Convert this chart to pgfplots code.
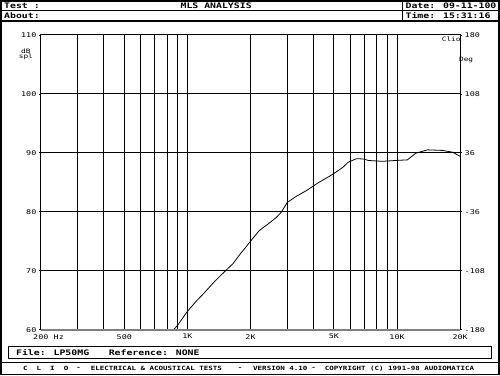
\documentclass[border=0pt]{standalone}
\usepackage{fontspec}
\usepackage{pgfplots}
\pgfplotsset{compat=1.18}
\setmainfont{DejaVu Sans Mono}[FakeStretch=1.25]
\newfontfamily\hdr{DejaVu Sans Mono}[FakeStretch=1.3]
\newcommand{\hf}{\hdr\bfseries\fontsize{7.6}{8}\selectfont}
\newcommand{\smf}{\hdr\fontsize{6}{6}\selectfont}
\newcommand{\sbf}{\hdr\bfseries\fontsize{5.8}{6}\selectfont}
\newcommand{\tf}{\hdr\fontsize{6.5}{7}\selectfont}
\begin{document}
\begin{tikzpicture}
\begin{scope}[x=1pt,y=1pt]
\useasboundingbox (0,0) rectangle (500,375);
\fill[white] (0,0) rectangle (500,375);
% header
\draw[line width=1] (0,365) -- (500,365);
\draw[line width=1.5] (0,355) -- (500,355);
\draw[line width=1] (403,375) -- (403,355);
\node[anchor=west, font=\hf, inner sep=0] at (3,370) {Test :};
\node[anchor=center, font=\hf, inner sep=0] at (216,370) {MLS ANALYSIS};
\node[anchor=west, font=\hf, inner sep=0] at (3,360) {About:};
\node[anchor=west, font=\hf, inner sep=0] at (406,370) {Date: 09-11-100};
\node[anchor=west, font=\hf, inner sep=0] at (406,360) {Time: 15:31:16};
% file box
\draw[line width=1] (8,16) rectangle (492,28);
\node[anchor=west, font=\hf, inner sep=0] at (15,22) {File: LP50MG};
\node[anchor=west, font=\hf, inner sep=0] at (108,22) {Reference: NONE};
\draw[line width=1] (0,12) -- (500,12);
% bottom line
\node[anchor=west, font=\sbf, inner sep=0] at (22,6) {C\ \ L\ \ I\ \ O};
\node[anchor=center, font=\sbf, inner sep=0] at (78,6) {-};
\node[anchor=west, font=\sbf, inner sep=0] at (90,6) {ELECTRICAL \& ACOUSTICAL TESTS};
\node[anchor=center, font=\sbf, inner sep=0] at (240,6) {-};
\node[anchor=west, font=\sbf, inner sep=0] at (253,6) {VERSION 4.10};
\node[anchor=center, font=\sbf, inner sep=0] at (314,6) {-};
\node[anchor=west, font=\sbf, inner sep=0] at (325,6) {COPYRIGHT (C) 1991-98 AUDIOMATICA};
% labels
\node[font=\smf, inner sep=0] at (25,325) {dB};
\node[font=\smf, inner sep=0] at (25,319) {spl};
\node[font=\smf, inner sep=0] at (452,337) {Clio};
\node[font=\smf, inner sep=0] at (467,316) {Deg};
\node[font=\tf, inner sep=0] at (58,38) {Hz};
\end{scope}
\begin{axis}[at={(40pt,45pt)}, anchor=south west, width=421pt, height=296pt, scale only axis,
  xmode=log, log basis x=10, xmin=200, xmax=20000, ymin=60, ymax=110,
  xtick={200,500,1000,2000,5000,10000,20000},
  xticklabels={200,500,1K,2K,5K,10K,20K},
  minor xtick={300,400,600,700,800,900,3000,4000,6000,7000,8000,9000},
  ytick={60,70,...,110},
  minor ytick={62,64,...,108},
  xmajorgrids=true, xminorgrids=true, ymajorgrids=true,
  major grid style={black, line width=1pt},
  minor grid style={black, line width=1pt},
  axis line style={black, line width=1pt},
  xtick style={draw=none},
  ytick style={black, line width=0.6pt},
  tick align=outside, major tick length=2pt, minor tick length=1pt,
  ytick pos=left,
  /pgf/number format/assume math mode=true,
  tick label style={font=\tf},
  xticklabel style={yshift=1pt},
  yticklabel style={xshift=1pt},
  clip=false]
\addplot[black, line width=0.8pt] coordinates {
(860,60.0) (900,60.8) (1000,63.1) (1100,64.8) (1200,66.2) (1350,68.2)
(1500,69.8) (1650,71.2) (1783,72.8) (1900,74.0) (2000,75.0) (2200,76.8)
(2400,77.8) (2650,79.0) (2800,79.9) (3000,81.6) (3300,82.6) (3700,83.6)
(4200,84.9) (4700,85.9) (5100,86.7) (5500,87.5) (5850,88.4) (6400,89.0)
(6900,88.95) (7300,88.7) (8500,88.55) (9900,88.7) (11200,88.8) (12300,89.95)
(14000,90.5) (16500,90.4) (18400,90.1) (20000,89.4)};
\draw[gray, line width=2pt] (axis cs:200,60) -- (axis cs:20000,60);
\end{axis}
\begin{axis}[at={(40pt,45pt)}, anchor=south west, width=421pt, height=296pt, scale only axis,
  xmin=0, xmax=1, ymin=-180, ymax=180,
  axis y line*=right, axis x line=none,
  ytick={-180,-108,-36,36,108,180},
  minor ytick={-165.6,-151.2,...,165.6},
  axis line style={black, line width=1pt},
  ytick style={black, line width=0.6pt},
  tick align=outside, major tick length=2pt, minor tick length=1pt,
  /pgf/number format/assume math mode=true,
  tick label style={font=\tf},
  yticklabel style={xshift=-1pt}]
\end{axis}
\draw[line width=2pt] (0,0) rectangle (500pt,375pt);
\end{tikzpicture}
\end{document}
